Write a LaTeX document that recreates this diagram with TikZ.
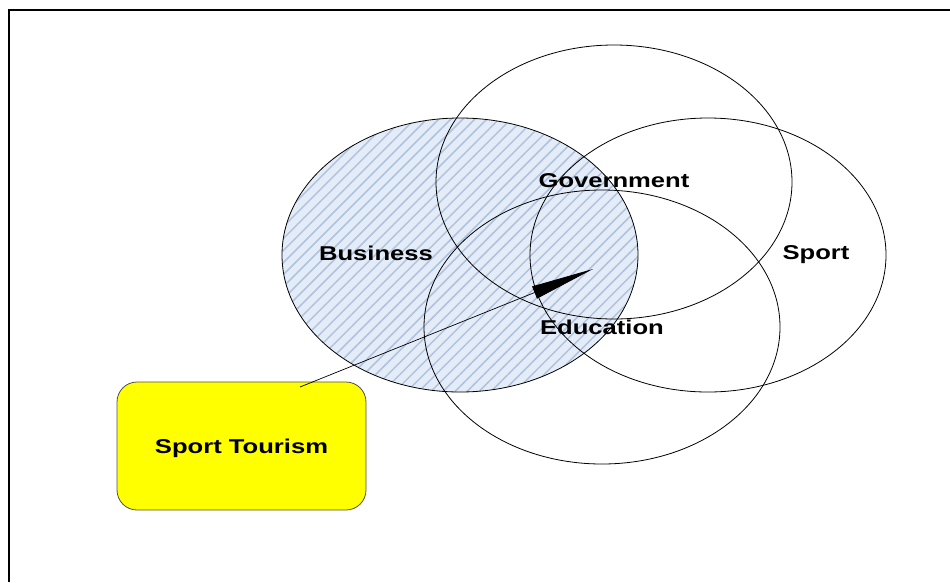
\documentclass[tikz,border=0pt]{standalone}
\usepackage{fontspec}
\setmainfont{Liberation Sans}
\newfontfamily\widesans[FakeStretch=1.28]{Liberation Sans}
\usetikzlibrary{patterns.meta,arrows.meta}
\definecolor{hatchbg}{RGB}{228,236,248}
\definecolor{hatchln}{RGB}{176,194,222}
\definecolor{tourfill}{RGB}{255,255,0}
\definecolor{tourline}{RGB}{80,80,80}

\begin{document}
\begin{tikzpicture}[x=10pt,y=-10pt,
    area/.style={draw=black, line width=0.8pt},
    lbl/.style={font=\widesans\bfseries\fontsize{20}{24}\selectfont, inner sep=0pt, text depth=0pt},
    tourbox/.style={draw=tourline, fill=tourfill, line width=0.8pt, rounded corners=20pt,
        minimum width=249pt, minimum height=128pt, lbl}]
    \useasboundingbox (0,0) rectangle (95,58.2);

    % Frame
    \draw[line width=2pt] (95,1.0) -- (0.9,1.0) -- (0.9,58.2);

    % Business area (hatched)
    \fill[hatchbg] (46.0,25.5) ellipse [x radius=17.8, y radius=13.7];
    \fill[pattern={Lines[angle=45,distance=8.5pt,line width=1.5pt]}, pattern color=hatchln]
        (46.0,25.5) ellipse [x radius=17.8, y radius=13.7];

    % Outlines
    \draw[area] (46.0,25.5) ellipse [x radius=17.8, y radius=13.7];
    \draw[area] (61.4,18.2) ellipse [x radius=17.8, y radius=13.7];
    \draw[area] (70.8,25.5) ellipse [x radius=17.8, y radius=13.7];
    \draw[area] (60.2,32.7) ellipse [x radius=17.8, y radius=13.7];

    % Area labels
    \node[lbl] (bus) at (37.6,25.3) {Business};
    \node[lbl] (gov) at (61.4,18.1) {Government};
    \node[lbl] (spo) at (81.6,25.3) {Sport};
    \node[lbl] (edu) at (60.2,32.7) {Education};

    % Sport tourism box and pointer
    \node[tourbox] (tour) at (24.15,44.6) {Sport Tourism};
    \coordinate (tail) at (30.0,38.7);
    \coordinate (tip) at (59.3,26.9);
    \draw[line width=0.7pt, -{Triangle[length=63pt,width=13pt]}] (tail) -- (tip);
\end{tikzpicture}
\end{document}
